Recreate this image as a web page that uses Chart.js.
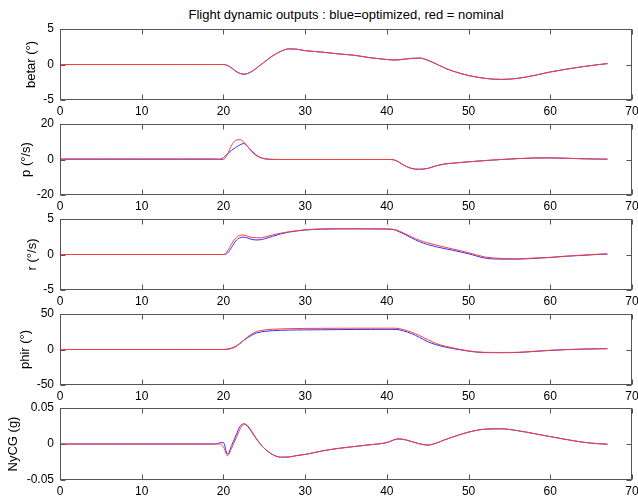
<!DOCTYPE html>
<html>
<head>
<meta charset="utf-8">
<script src="https://cdn.jsdelivr.net/npm/chart.js@4.4.1/dist/chart.umd.min.js"></script>
<style>
html,body{margin:0;padding:0;background:#fff;width:638px;height:499px;overflow:hidden;position:relative;font-family:"Liberation Sans",Arial,sans-serif}
#title{position:absolute;left:0;width:692px;top:7px;text-align:center;font-size:13px;line-height:16px;color:#000;white-space:nowrap}
.box{position:absolute;left:0}
canvas{display:block}
</style>
</head>
<body>
<div id="title">Flight dynamic outputs : blue=optimized, red = nominal</div>
<div class="box" style="top:21px"><canvas id="c0" width="660" height="101"></canvas></div>
<div class="box" style="top:116px"><canvas id="c1" width="660" height="101"></canvas></div>
<div class="box" style="top:211px"><canvas id="c2" width="660" height="101"></canvas></div>
<div class="box" style="top:306px"><canvas id="c3" width="660" height="101"></canvas></div>
<div class="box" style="top:400px"><canvas id="c4" width="660" height="102"></canvas></div>
<script>
// time grid (s)
const t = [0, 5, 10, 15, 19, 19.5, 20, 20.5, 21, 21.5, 22, 22.5, 23, 23.5, 24, 24.5, 25, 26, 27, 28, 29, 30, 32, 34, 36, 38, 40, 40.5, 41, 41.5, 42, 43, 44, 45, 46, 47, 48, 50, 52, 54, 56, 58, 60, 62, 64, 66, 67];

const xTicks = [0, 10, 20, 30, 40, 50, 60, 70];

// betar (deg)
const betarNominal = [0, 0, 0, 0, 0, 0, 0, -0.15, -0.5, -0.95, -1.25, -1.37, -1.25, -0.95, -0.55, -0.1, 0.35, 1.2, 1.85, 2.2, 2.15, 1.95, 1.75, 1.5, 1.3, 0.95, 0.7, 0.66, 0.63, 0.65, 0.72, 0.85, 0.9, 0.6, 0.1, -0.45, -0.9, -1.55, -1.95, -2.1, -1.95, -1.55, -1.05, -0.65, -0.3, 0.0, 0.12];
const betarOptimized = [0, 0, 0, 0, 0, 0, 0, -0.14, -0.48, -0.93, -1.24, -1.36, -1.25, -0.96, -0.56, -0.11, 0.34, 1.19, 1.84, 2.2, 2.15, 1.95, 1.75, 1.5, 1.3, 0.95, 0.7, 0.66, 0.64, 0.67, 0.74, 0.87, 0.9, 0.6, 0.1, -0.45, -0.9, -1.55, -1.95, -2.1, -1.95, -1.55, -1.05, -0.65, -0.3, 0.0, 0.12];
const betarTicks = [-5, 0, 5];

// p (deg/s)
const pNominal = [0, 0, 0, 0, 0, 0, 0, 3, 8, 10.8, 11.2, 9.8, 7.1, 4.3, 2.3, 1.1, 0.4, 0, 0, 0, 0, 0, 0, 0, 0, 0, 0, 0, -0.4, -1.5, -3, -5, -5.5, -5, -3.6, -2.6, -2.1, -1.3, -0.6, 0, 0.5, 0.85, 0.9, 0.7, 0.4, 0.25, 0.2];
const pOptimized = [0.3, 0.3, 0.3, 0.3, 0.3, 0.2, 1.0, 3.2, 5.2, 6.8, 8.2, 9.0, 7.1, 4.6, 2.6, 1.2, 0.5, 0.1, 0, 0, 0, 0, 0, 0, 0, 0, 0, 0, -0.4, -1.5, -3, -5, -5.5, -5, -3.6, -2.6, -2.1, -1.3, -0.6, 0, 0.5, 0.85, 0.9, 0.7, 0.4, 0.25, 0.2];
const pTicks = [-20, 0, 20];

// r (deg/s)
const rNominal = [0, 0, 0, 0, 0, 0, 0, 0.5, 1.5, 2.3, 2.7, 2.75, 2.55, 2.4, 2.35, 2.35, 2.45, 2.75, 3.0, 3.2, 3.35, 3.48, 3.6, 3.65, 3.65, 3.62, 3.6, 3.58, 3.5, 3.3, 3.05, 2.5, 2.0, 1.65, 1.35, 1.05, 0.8, 0.25, -0.35, -0.55, -0.6, -0.5, -0.4, -0.22, -0.08, 0.05, 0.1];
const rOptimized = [0, 0, 0, 0, 0, 0, 0, 0.2, 1.0, 1.9, 2.35, 2.45, 2.3, 2.12, 2.05, 2.07, 2.2, 2.55, 2.9, 3.15, 3.32, 3.45, 3.57, 3.6, 3.6, 3.6, 3.58, 3.55, 3.45, 3.2, 2.95, 2.35, 1.8, 1.4, 1.1, 0.85, 0.62, 0.1, -0.5, -0.65, -0.65, -0.55, -0.42, -0.25, -0.12, 0.02, 0.05];
const rTicks = [-5, 0, 5];

// phir (deg)
const phirNominal = [0, 0, 0, 0, 0, 0, 0, 0.3, 1.5, 4, 8, 13, 18, 22, 25, 26.5, 27.5, 28.5, 29, 29.3, 29.5, 29.7, 29.8, 29.9, 30, 30, 30, 30, 30, 29.5, 28, 24.5, 19.5, 14, 8.5, 5, 2.5, -2, -4, -4.2, -4, -2.5, -1, 0, 0.6, 1.0, 1.2];
const phirOptimized = [0, 0, 0, 0, 0, 0, 0, 0.5, 2, 4.5, 8.5, 13, 17, 20.5, 23, 24.5, 25.5, 26.5, 27, 27.3, 27.5, 27.6, 27.8, 28, 28.2, 28.3, 28.4, 28.4, 28.3, 27.8, 26.3, 22.5, 17, 11, 6.8, 3.8, 1.5, -2.3, -4.4, -4.5, -4.2, -2.8, -1.3, -0.2, 0.5, 1.0, 1.1];
const phirTicks = [-50, 0, 50];

// NyCG (g)
const nyNominal = [0, 0, 0, 0, 0, 0, -0.004, -0.0163, -0.006, 0.007, 0.02, 0.028, 0.025, 0.017, 0.008, 0.0005, -0.006, -0.0145, -0.0183, -0.018, -0.016, -0.0145, -0.0098, -0.0062, -0.0035, -0.001, 0.002, 0.004, 0.0063, 0.007, 0.0065, 0.0035, 0.0003, -0.0015, 0.001, 0.0055, 0.0095, 0.0165, 0.0205, 0.021, 0.0185, 0.0145, 0.0102, 0.0062, 0.0025, 0.0003, -0.0003];
const nyOptimized = [0, 0, 0, 0, 0, 0.0015, 0.002, -0.014, -0.002, 0.011, 0.024, 0.028, 0.024, 0.016, 0.0075, 0.0003, -0.006, -0.0145, -0.0183, -0.018, -0.016, -0.0145, -0.0098, -0.0062, -0.0035, -0.001, 0.002, 0.004, 0.0063, 0.007, 0.0065, 0.0035, 0.0003, -0.0015, 0.001, 0.0055, 0.0095, 0.0165, 0.0206, 0.0211, 0.0185, 0.0145, 0.0102, 0.0062, 0.0025, 0.0003, -0.0003];
const nyTicks = [-0.05, 0, 0.05];

const panels = [
  {id: 'c0', label: 'betar (°)', nom: betarNominal, opt: betarOptimized, ticks: betarTicks, padL: 24},
  {id: 'c1', label: 'p (°/s)', nom: pNominal, opt: pOptimized, ticks: pTicks, padL: 19},
  {id: 'c2', label: 'r (°/s)', nom: rNominal, opt: rOptimized, ticks: rTicks, padL: 25},
  {id: 'c3', label: 'phir (°)', nom: phirNominal, opt: phirOptimized, ticks: phirTicks, padL: 18},
  {id: 'c4', label: 'NyCG (g)', nom: nyNominal, opt: nyOptimized, ticks: nyTicks, padL: 6}
];

Chart.defaults.font.family = "'Liberation Sans', Arial, sans-serif";
Chart.defaults.font.size = 12;
Chart.defaults.color = '#000';

const AXIS = '#555';
const framePlugin = {
  id: 'frame',
  afterDraw(chart) {
    const {ctx, chartArea: a, scales} = chart;
    ctx.save();
    ctx.strokeStyle = AXIS;
    ctx.lineWidth = 1;
    const L = Math.round(a.left) + 0.5, R = Math.round(a.right) - 0.5;
    const T = Math.round(a.top) + 0.5, B = Math.round(a.bottom) - 0.5;
    ctx.strokeRect(L, T, R - L, B - T);
    ctx.beginPath();
    scales.x.ticks.forEach(tk => {
      const px = Math.round(scales.x.getPixelForValue(tk.value)) + 0.5;
      ctx.moveTo(px, B); ctx.lineTo(px, B - 5);
      ctx.moveTo(px, T); ctx.lineTo(px, T + 5);
    });
    scales.y.ticks.forEach(tk => {
      const py = Math.round(scales.y.getPixelForValue(tk.value)) + 0.5;
      ctx.moveTo(L, py); ctx.lineTo(L + 5, py);
      ctx.moveTo(R, py); ctx.lineTo(R - 5, py);
    });
    ctx.stroke();
    ctx.restore();
  }
};

const toXY = arr => t.map((x, i) => ({x, y: arr[i]}));

panels.forEach(p => {
  new Chart(document.getElementById(p.id), {
    type: 'line',
    data: {
      datasets: [
        {label: 'nominal', data: toXY(p.nom), borderColor: 'rgb(255,60,60)', borderWidth: 1, pointRadius: 0, fill: false, cubicInterpolationMode: 'monotone'},
        {label: 'optimized', data: toXY(p.opt), borderColor: 'rgb(50,50,255)', borderWidth: 1, pointRadius: 0, fill: false, cubicInterpolationMode: 'monotone'}
      ]
    },
    options: {
      responsive: false,
      animation: false,
      events: [],
      layout: {padding: {top: 8, left: p.padL, right: 28, bottom: 0}},
      plugins: {legend: {display: false}, tooltip: {enabled: false}},
      scales: {
        x: {
          type: 'linear', min: 0, max: 70,
          grid: {display: false, drawTicks: false},
          border: {display: false},
          afterBuildTicks: s => { s.ticks = xTicks.map(v => ({value: v})); },
          afterFit: s => { s.height = 22; s.paddingLeft = 0; s.paddingRight = 0; },
          ticks: {padding: 6, maxRotation: 0, autoSkip: false, font: {lineHeight: 1}, callback: v => String(v)}
        },
        y: {
          min: p.ticks[0], max: p.ticks[p.ticks.length - 1],
          grid: {display: false, drawTicks: false},
          border: {display: false},
          afterBuildTicks: s => { s.ticks = p.ticks.map(v => ({value: v})); },
          afterFit: s => { s.width = 60 - p.padL; s.paddingTop = 0; s.paddingBottom = 0; },
          ticks: {padding: 6, autoSkip: false, font: {lineHeight: 1}, callback: v => String(v)},
          title: {display: true, text: p.label, font: {size: 13}, padding: 0}
        }
      }
    },
    plugins: [framePlugin]
  });
});
</script>
</body>
</html>
